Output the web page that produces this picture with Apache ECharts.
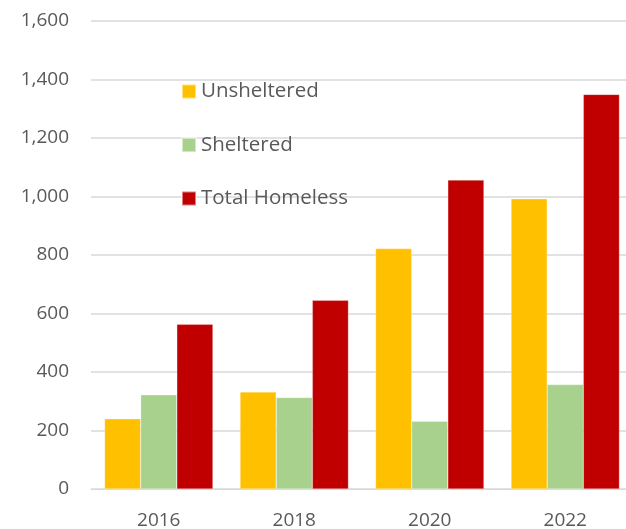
<!DOCTYPE html>
<html>
<head>
<meta charset="utf-8">
<script src="https://cdn.jsdelivr.net/npm/echarts@6/dist/echarts.min.js"></script>
<style>html,body{margin:0;padding:0;background:#fff;}#c{width:626px;height:529px;}</style>
</head>
<body>
<div id="c"></div>
<script>
const categories = ['2016', '2018', '2020', '2022'];
const unsheltered = [240, 332, 822, 992];
const sheltered = [322, 313, 232, 357];
const totalHomeless = [563, 645, 1056, 1349];
const yTicks = [0, 200, 400, 600, 800, 1000, 1200, 1400, 1600];

const font = '"Open Sans", "Liberation Sans", sans-serif';
const chart = echarts.init(document.getElementById('c'), null, {renderer: 'canvas'});
chart.setOption({
  animation: false,
  backgroundColor: '#fff',
  grid: {left: 91, top: 21, width: 542, bottom: 40, containLabel: false, outerBoundsMode: 'none'},
  legend: {
    orient: 'vertical', left: 181, top: 81, padding: 0,
    itemWidth: 14, itemHeight: 14, itemGap: 32.5,
    icon: 'rect',
    textStyle: {color: '#595959', fontSize: 20.5, fontFamily: font, lineHeight: 20, padding: [0,0,0,0]},
    data: ['Unsheltered', 'Sheltered', 'Total Homeless']
  },
  xAxis: {
    type: 'category', data: categories,
    axisLine: {show: true, lineStyle: {color: '#D9D9D9', width: 1}},
    axisTick: {show: false},
    axisLabel: {color: '#595959', fontSize: 19, fontFamily: font, margin: 22}
  },
  yAxis: {
    type: 'value', min: yTicks[0], max: yTicks[yTicks.length - 1], interval: 200,
    axisLine: {show: false}, axisTick: {show: false},
    splitLine: {lineStyle: {color: '#D9D9D9', width: 1.5}},
    axisLabel: {color: '#595959', fontSize: 19, fontFamily: font, margin: 22,
      formatter: v => v.toLocaleString('en-US')}
  },
  series: [
    {name: 'Unsheltered', type: 'bar', data: unsheltered, barGap: '0%', barCategoryGap: '20%',
     itemStyle: {color: '#FFC000', borderColor: 'rgba(255,255,255,0.5)', borderWidth: 0.5}},
    {name: 'Sheltered', type: 'bar', data: sheltered, barGap: '0%', barCategoryGap: '20%',
     itemStyle: {color: '#A9D18E', borderColor: 'rgba(255,255,255,0.5)', borderWidth: 0.5}},
    {name: 'Total Homeless', type: 'bar', data: totalHomeless, barGap: '0%', barCategoryGap: '20%',
     itemStyle: {color: '#C00000', borderColor: 'rgba(255,255,255,0.5)', borderWidth: 0.5}}
  ]
});
</script>
</body>
</html>
